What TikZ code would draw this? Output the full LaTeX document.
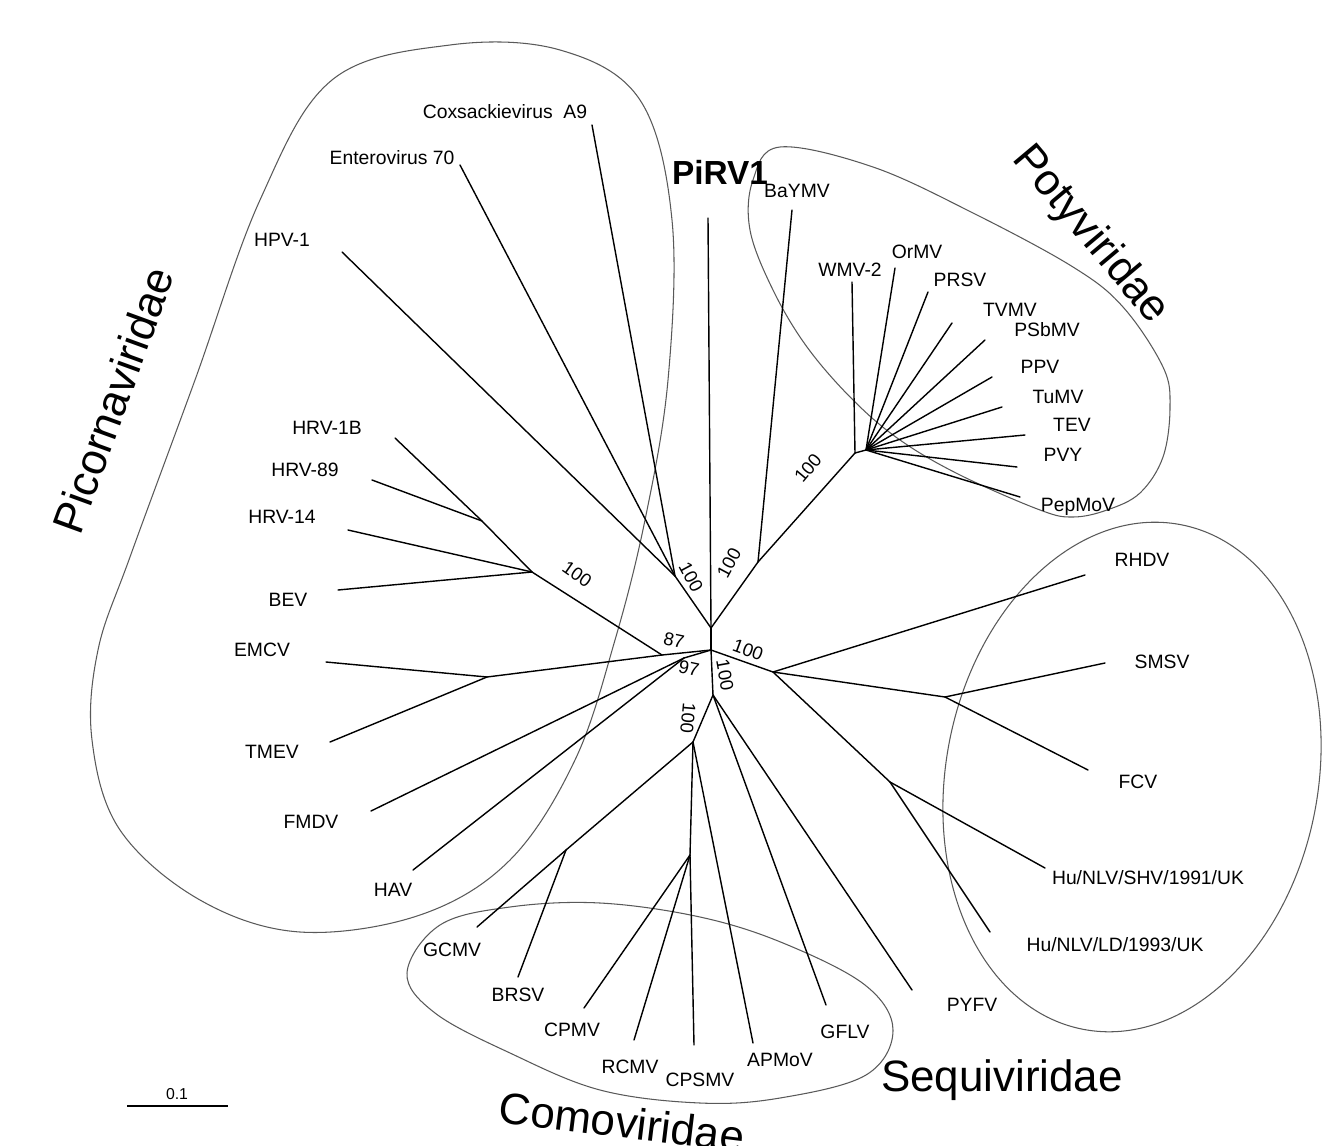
\documentclass[tikz,border=0pt]{standalone}
\usepackage{fontspec}
\setmainfont{Liberation Sans}
\begin{document}
\begin{tikzpicture}[x=0.02cm, y=-0.02cm,
  leaf/.style={font=\fontsize{11}{13}\selectfont, inner sep=1pt},
  boot/.style={font=\fontsize{10.5}{12}\selectfont, inner sep=0pt},
  family/.style={font=\fontsize{25}{30}\selectfont, inner sep=0pt},
  branch/.style={line width=0.8pt, line cap=round},
  group/.style={line width=0.6pt, black!65}]
\useasboundingbox (0,0) rectangle (1339,1146);

% family outlines
\draw[group] plot[smooth cycle, tension=0.6] coordinates {(332,80) (450,45) (560,50) (640,100) (672,220) (668,380) (645,520) (615,640) (575,760) (510,860) (420,915) (300,932) (200,900) (120,830) (92,740) (98,650) (130,557) (195,380) (260,200)};
\draw[group] plot[smooth cycle, tension=0.6] coordinates {(753,180) (780,147) (873,167) (973,213) (1073,267) (1123,307) (1163,367) (1170,407) (1163,457) (1140,493) (1107,510) (1073,517) (1040,510) (960,475) (900,440) (853,400) (807,347) (773,290) (750,230)};
\draw[group] (1132,777) ellipse [x radius=186, y radius=257, rotate=-11];
\draw[group] plot[smooth cycle, tension=0.6] coordinates {(407,973) (440,925) (510,907) (600,903) (700,917) (783,943) (865,985) (893,1030) (866,1075) (780,1098) (700,1103) (600,1090) (510,1053) (435,1013)};

% inner nodes
\coordinate (c) at (711,650);
\coordinate (u) at (711,628);
\coordinate (e) at (675,576);
\coordinate (b) at (758,562);
\coordinate (p) at (855,453);
\coordinate (p2) at (866,450);
\coordinate (h1) at (482,521);
\coordinate (h) at (532,572);
\coordinate (l1) at (662,655);
\coordinate (m) at (487,677);
\coordinate (f) at (684,658);
\coordinate (d) at (713,695);
\coordinate (w) at (693,742);
\coordinate (g) at (566,850);
\coordinate (q) at (690,855);
\coordinate (k) at (773,672);
\coordinate (s) at (945,697);
\coordinate (n) at (890,782);

% leaf tips
\coordinate (cox) at (592,125);
\coordinate (ent) at (460,165);
\coordinate (hpv) at (342,252);
\coordinate (hrv1b) at (395,438);
\coordinate (hrv89) at (372,480);
\coordinate (hrv14) at (348,530);
\coordinate (bev) at (338,590);
\coordinate (emcv) at (326,662);
\coordinate (tmev) at (330,742);
\coordinate (fmdv) at (371,811);
\coordinate (hav) at (413,870);
\coordinate (gcmv) at (477,927);
\coordinate (brsv) at (518,977);
\coordinate (cpmv) at (584,1008);
\coordinate (rcmv) at (634,1040);
\coordinate (cpsmv) at (694,1045);
\coordinate (apmov) at (753,1043);
\coordinate (gflv) at (826,1005);
\coordinate (pyfv) at (912,990);
\coordinate (ld) at (990,932);
\coordinate (shv) at (1045,868);
\coordinate (fcv) at (1088,770);
\coordinate (smsv) at (1105,663);
\coordinate (rhdv) at (1085,575);
\coordinate (pirv) at (708,218);
\coordinate (baymv) at (792,210);
\coordinate (wmv) at (852,282);
\coordinate (ormv) at (895,268);
\coordinate (prsv) at (928,292);
\coordinate (tvmv) at (952,323);
\coordinate (psbmv) at (985,340);
\coordinate (ppv) at (992,377);
\coordinate (tumv) at (1002,407);
\coordinate (tev) at (1025,435);
\coordinate (pvy) at (1017,467);
\coordinate (pepmov) at (1020,497);

% labels
\node[leaf] (coxL) at (505,112) {Coxsackievirus\ \ A9};
\node[leaf] (entL) at (392,158) {Enterovirus 70};
\node[leaf] (hpvL) at (282,240) {HPV-1};
\node[leaf] (hrv1bL) at (327,428) {HRV-1B};
\node[leaf] (hrv89L) at (305,470) {HRV-89};
\node[leaf] (hrv14L) at (282,517) {HRV-14};
\node[leaf] (bevL) at (288,600) {BEV};
\node[leaf] (emcvL) at (262,650) {EMCV};
\node[leaf] (tmevL) at (272,752) {TMEV};
\node[leaf] (fmdvL) at (311,822) {FMDV};
\node[leaf] (havL) at (393,890) {HAV};
\node[leaf] (gcmvL) at (452,950) {GCMV};
\node[leaf] (brsvL) at (518,995) {BRSV};
\node[leaf] (cpmvL) at (572,1030) {CPMV};
\node[leaf] (rcmvL) at (630,1067) {RCMV};
\node[leaf] (cpsmvL) at (700,1080) {CPSMV};
\node[leaf] (apmovL) at (780,1060) {APMoV};
\node[leaf] (gflvL) at (845,1032) {GFLV};
\node[leaf] (pyfvL) at (972,1005) {PYFV};
\node[leaf] (ldL) at (1115,945) {Hu/NLV/LD/1993/UK};
\node[leaf] (shvL) at (1148,878) {Hu/NLV/SHV/1991/UK};
\node[leaf] (fcvL) at (1138,782) {FCV};
\node[leaf] (smsvL) at (1162,662) {SMSV};
\node[leaf] (rhdvL) at (1142,560) {RHDV};
\node[font=\fontsize{19}{22}\selectfont\bfseries, inner sep=0pt] (pirvL) at (720,172) {PiRV1};
\node[leaf] (baymvL) at (797,191) {BaYMV};
\node[leaf] (wmvL) at (850,270) {WMV-2};
\node[leaf] (ormvL) at (917,252) {OrMV};
\node[leaf] (prsvL) at (960,280) {PRSV};
\node[leaf] (tvmvL) at (1010,310) {TVMV};
\node[leaf] (psbmvL) at (1047,330) {PSbMV};
\node[leaf] (ppvL) at (1040,367) {PPV};
\node[leaf] (tumvL) at (1058,397) {TuMV};
\node[leaf] (tevL) at (1072,425) {TEV};
\node[leaf] (pvyL) at (1063,455) {PVY};
\node[leaf] (pepmovL) at (1078,507) {PepMoV};

% branches
\draw[branch] (c) -- (u);
\draw[branch] (u) -- (pirv);
\draw[branch] (u) -- (e);
\draw[branch] (e) -- (cox);
\draw[branch] (e) -- (ent);
\draw[branch] (e) -- (hpv);
\draw[branch] (u) -- (b);
\draw[branch] (b) -- (baymv);
\draw[branch] (b) -- (p);
\draw[branch] (p) -- (p2);
\draw[branch] (p) -- (wmv);
\foreach \t in {ormv,prsv,tvmv,psbmv,ppv,tumv,tev,pvy,pepmov}
  \draw[branch] (p2) -- (\t);
\draw[branch] (c) -- (l1);
\draw[branch] (l1) -- (h);
\draw[branch] (h) -- (h1);
\draw[branch] (h1) -- (hrv1b);
\draw[branch] (h1) -- (hrv89);
\draw[branch] (h) -- (hrv14);
\draw[branch] (h) -- (bev);
\draw[branch] (l1) -- (m);
\draw[branch] (m) -- (emcv);
\draw[branch] (m) -- (tmev);
\draw[branch] (c) -- (f);
\draw[branch] (f) -- (fmdv);
\draw[branch] (f) -- (hav);
\draw[branch] (c) -- (d);
\draw[branch] (d) -- (w);
\draw[branch] (d) -- (gflv);
\draw[branch] (d) -- (pyfv);
\draw[branch] (w) -- (g);
\draw[branch] (g) -- (gcmv);
\draw[branch] (g) -- (brsv);
\draw[branch] (w) -- (q);
\draw[branch] (q) -- (cpsmv);
\draw[branch] (q) -- (cpmv);
\draw[branch] (q) -- (rcmv);
\draw[branch] (w) -- (apmov);
\draw[branch] (c) -- (k);
\draw[branch] (k) -- (rhdv);
\draw[branch] (k) -- (s);
\draw[branch] (s) -- (smsv);
\draw[branch] (s) -- (fcv);
\draw[branch] (k) -- (n);
\draw[branch] (n) -- (shv);
\draw[branch] (n) -- (ld);

% bootstrap values
\node[boot, rotate=-35] (bs1) at (577,574) {100};
\node[boot, rotate=-62] (bs2) at (691,577) {100};
\node[boot, rotate=62] (bs3) at (729,563) {100};
\node[boot, rotate=50] (bs4) at (808,468) {100};
\node[boot, rotate=-12] (bs5) at (674,640) {87};
\node[boot, rotate=-12] (bs6) at (689,668) {97};
\node[boot, rotate=-20] (bs7) at (748,650) {100};
\node[boot, rotate=-80] (bs8) at (725,675) {100};
\node[boot, rotate=-95] (bs9) at (688,718) {100};

% family names
\node[family, rotate=70] (picoF) at (113,400) {Picornaviridae};
\node[family, rotate=-50] (potyF) at (1090,235) {Potyviridae};
\node[family, rotate=-7] (comoF) at (622,1122) {Comoviridae};
\node[family] (sequiF) at (1002,1080) {Sequiviridae};

% scale bar
\coordinate (sb1) at (127,1106);
\coordinate (sb2) at (228,1106);
\draw[line width=0.8pt] (sb1) -- (sb2);
\node[font=\fontsize{9}{10}\selectfont, inner sep=1pt] (sbL) at (177,1094) {0.1};
\end{tikzpicture}
\end{document}
